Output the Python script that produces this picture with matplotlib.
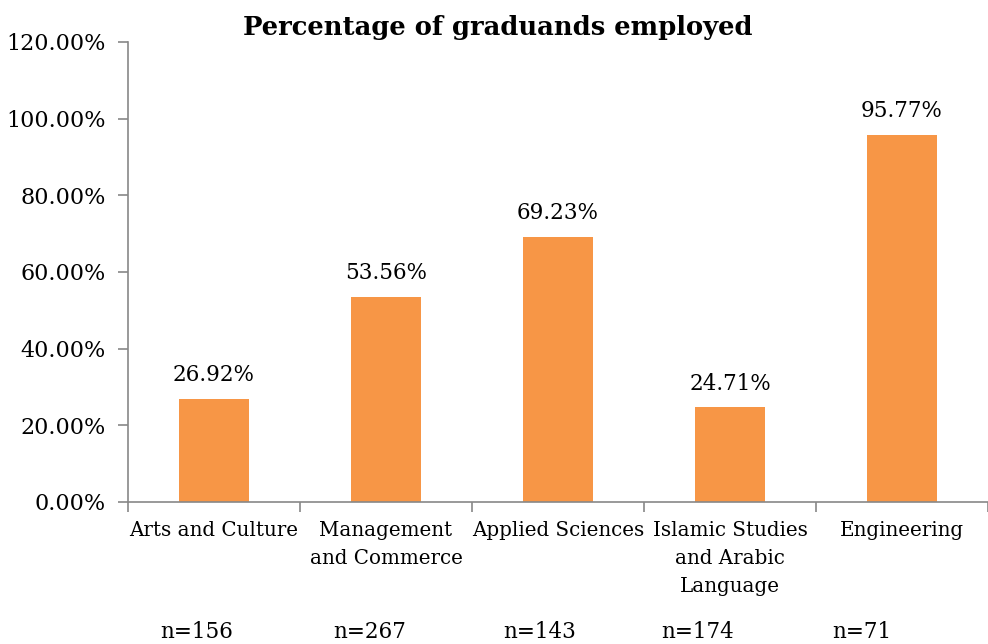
import matplotlib
matplotlib.use("Agg")
import matplotlib.pyplot as plt
from matplotlib.ticker import FuncFormatter

categories = ["Arts and Culture", "Management\nand Commerce", "Applied Sciences",
              "Islamic Studies\nand Arabic\nLanguage", "Engineering"]
values = [26.92, 53.56, 69.23, 24.71, 95.77]
n_labels = ["n=156", "n=267", "n=143", "n=174", "n=71"]

plt.rcParams['font.family'] = ['DejaVu Serif']

fig = plt.figure(figsize=(9.88, 6.44), dpi=100)
ax = fig.add_axes([128/988, 1-502/644, 1-128/988, (502-42)/644])

x = list(range(len(categories)))
ax.bar(x, values, width=0.41, color="#F79646")
for xi, v in zip(x, values):
    ax.text(xi, v + 3.3, f"{v:.2f}%", ha="center", va="bottom", fontsize=15.5)

ax.set_xlim(-0.5, len(categories) - 0.5)
ax.set_ylim(0, 120)
ax.set_yticks(range(0, 121, 20))
ax.yaxis.set_major_formatter(FuncFormatter(lambda v, p: f"{v:.2f}%"))
ax.tick_params(axis='y', labelsize=16, length=7, color="#888888", width=1.2, pad=9)

ax.set_xticks([i + 0.5 for i in range(-1, len(categories))])
ax.set_xticklabels([])
ax.tick_params(axis='x', length=7, color="#888888", width=1.2)
for xi, c in zip(x, categories):
    ax.text(xi, -5.0, c, ha="center", va="top", fontsize=14.3, linespacing=1.6)

n_pos = [197, 370, 540, 698, 862]
for px, lab in zip(n_pos, n_labels):
    fig.text(px/988, 1-632/644, lab, ha="center", va="center", fontsize=15.5)

for s in ["top", "right"]:
    ax.spines[s].set_visible(False)
for s in ["left", "bottom"]:
    ax.spines[s].set_color("#888888")
    ax.spines[s].set_linewidth(1.2)

fig.text(498/988, 1-27/644, "Percentage of graduands employed", ha="center", va="center",
         fontsize=18.6, fontweight="bold")

fig.savefig("out.png", dpi=100)
